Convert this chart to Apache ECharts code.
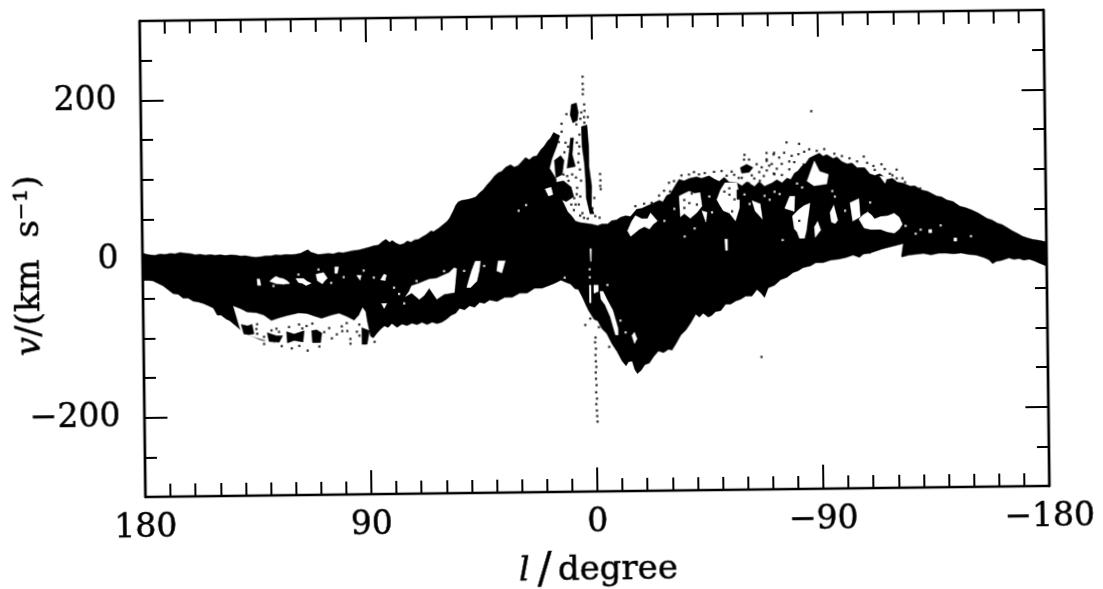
<!DOCTYPE html>
<html>
<head>
<meta charset="utf-8">
<title>Longitude-velocity diagram</title>
<script src="https://cdn.jsdelivr.net/npm/echarts@6/dist/echarts.min.js"></script>
<style>
html,body{margin:0;padding:0;background:#fff;overflow:hidden}
#c{width:1103px;height:589px;transform:rotate(-0.7deg);transform-origin:551px 294px}
</style>
</head>
<body>
<div id="c"></div>
<script>
// Tick labels
const xLabels = [180, 90, 0, -90, -180];
const yMajor = [-200, 0, 200];

// Outer edges of the emission band, [longitude, velocity]
const upperEdge = [[180,7.5],[178.5,6],[177,5],[175,4.5],[173,6],[171,5.2],[169,6.5],[167,6],[165,7.6],[163,6.5],[161,6],[159,4.5],[157,5],[155,3.8],[153,4.4],[151,3.6],[149,4.2],[147,3],[145,3.8],[143,3.4],[141,2.2],[139,2.5],[137,1.2],[135,0.3],[133,0.8],[131,2],[129,1.8],[127,3],[125,2.6],[123,3.4],[121,3],[119,3.6],[117,4.8],[115,8],[114,9],[113,6],[112,5],[110,2.8],[108,3.6],[106,4.2],[104,3.4],[102,5.2],[100,4.6],[98,6],[96,7.4],[94,7.8],[92,9.4],[90,11],[88,13],[86,14],[84.5,18],[83,21],[81.5,17],[80.5,19.5],[79,16],[77.5,14],[76,15],[74.5,18.5],[73,17],[71.5,20],[70,20.5],[68.5,23.5],[67,26],[65,31],[64,30],[62,34],[60,39],[58.5,43],[57.5,47],[56,56],[55,63],[54,67],[52.5,69],[51,69.5],[49,71],[47,73],[45.5,78],[44,82],[42.5,88],[41,93],[39.5,99],[38,103],[36.5,105],[35,110],[33,113],[31.5,110],[30,112],[28.5,117],[27,122],[25.5,119],[24,123],[22.5,124],[21,131],[19.5,136],[18,143],[17,146],[15.7,153],[14.5,151],[13.3,149],[14.5,136],[16.5,120],[17.5,108],[15,95],[14.5,82],[13,70],[11.5,60],[10.5,53],[9,48],[7.4,41],[5.5,39],[3.4,38],[1,37],[-1.4,35],[-3,37],[-5.4,37],[-7,41],[-9,42],[-10.5,45],[-12.5,47],[-14.5,46],[-17,55],[-19,56],[-21,59],[-24,63],[-26,66],[-27.5,64],[-29,72],[-30.5,74],[-32,82],[-34,92],[-36,90],[-38,93],[-41,95],[-43,93],[-46,96],[-48,92],[-50,89],[-52,94],[-54,88],[-57,87],[-59,83],[-61,88],[-64,82],[-66,88],[-68,82],[-71,86],[-73,90],[-75,86],[-77,92],[-78.5,90],[-80,98],[-81.5,101],[-83,107],[-84.5,110],[-86,117],[-88,120],[-90,123],[-91.5,119],[-93,121],[-95.5,116],[-97,118],[-99,112],[-101,109],[-103,110],[-105,104],[-108,104],[-110,96],[-112,94],[-114,96],[-117,89],[-119,90],[-121,85],[-123,84],[-126,80],[-128,80],[-130.5,75],[-133,73],[-136.5,67],[-138.5,66],[-140.5,62],[-143,60],[-145.7,54],[-148,52],[-150.5,49],[-153,45],[-156.5,38],[-158.5,36],[-160.5,32],[-162.5,30],[-164.5,26],[-166.5,22],[-168.4,19],[-170.5,15],[-172.4,13],[-174.5,11],[-176.4,10],[-178,9],[-180,7.5]];
const lowerEdge = [[180,-27],[178,-27],[176,-27.7],[174,-31],[172,-34],[170,-39],[168,-44],[166,-45],[164,-50],[162,-50],[160,-54],[158,-55],[156,-57],[154,-60],[152,-63],[150.5,-72],[149,-72],[147,-77],[145.6,-79],[143,-86],[141,-92],[139,-96],[136,-100],[134,-103],[132,-105],[130,-103],[128,-108],[125,-106],[122,-108],[119,-106],[116,-108],[113,-107],[110,-109],[107,-107],[104,-108],[101,-106],[98,-109],[95,-107],[92.5,-110],[90.5,-109],[90,-100],[88.5,-103],[87,-97],[85.5,-92],[84,-88],[82.5,-90],[81,-85],[79,-90],[77,-86],[75,-88],[73,-85],[71,-87],[69,-84],[67,-87],[65,-84],[63,-86],[61,-84],[59,-80],[57.5,-76],[55.5,-73],[54,-67],[52,-69],[50,-64],[48,-66],[46,-60],[44,-61],[42,-57],[39,-59],[36,-54],[33,-54],[30,-49],[27,-49],[24,-43],[21,-43],[18.5,-40],[16,-37],[13.5,-33],[11.5,-36],[9.7,-38],[8,-44],[6.6,-45],[5,-55],[3.5,-66],[2.6,-72],[0.5,-83],[-1,-85],[-2.6,-95],[-4.5,-101],[-6.5,-114],[-8.5,-124],[-10.5,-136],[-12,-142],[-13,-137],[-14.5,-136],[-15.5,-147],[-16.5,-152],[-18,-148],[-19.5,-141],[-21.3,-139],[-23,-131],[-25,-124],[-27,-126],[-29,-122],[-30.4,-123],[-32,-115],[-34,-104],[-36,-98],[-38,-89],[-40,-78],[-41.5,-82],[-43,-77],[-45,-82],[-46.3,-80],[-48,-75],[-50,-74],[-52,-66],[-54,-66],[-56,-62],[-58,-60],[-60,-56],[-62.5,-56],[-64.5,-48],[-66,-52],[-67.5,-58],[-69,-46],[-71.5,-43],[-74,-36],[-76.5,-33],[-79,-27],[-81,-25],[-83,-21],[-86,-19],[-88,-15],[-91,-15],[-94,-12],[-97,-11],[-100,-9],[-103,-6],[-105.5,-9],[-107,-5],[-109,-4],[-112,-5],[-115,-3],[-118,-2],[-120,-4],[-122.5,-9],[-125,-7],[-128,-6],[-131,-5],[-134,-7],[-137,-5],[-140,-5],[-143,-6],[-146,-5],[-149,-7],[-152,-8],[-155,-11],[-157,-14],[-158.5,-19],[-160,-16],[-162,-15],[-165,-12],[-167,-14],[-169,-13],[-171,-15],[-173,-14],[-175,-16],[-177,-19],[-180,-23]];

// Gaps in the emission
const gapLowLeft = [[144,-61],[141,-65],[138.6,-69],[135,-70],[132,-73],[129,-80],[126,-77],[122.6,-74],[118,-71],[114.7,-72],[112,-75],[109,-78],[105,-74],[102,-72],[99,-76],[96,-81],[94,-74],[92.6,-65],[91.5,-70],[91,-81],[89,-113],[89,-118],[118,-118],[141,-95]];
const gapA = [[129.5,-30],[128,-26],[127,-24],[125.5,-26],[124,-27],[122.5,-30],[121.5,-33],[124,-34],[127,-33]];
const gapB = [[119,-27],[116,-27],[114.5,-31],[113,-33],[115,-36],[116.5,-33],[118,-32]];
const gapC = [[111,-22],[108,-20],[106.5,-27],[107.5,-30],[108.5,-34],[110.5,-30]];
const gapD = [[134.5,-27],[133.5,-27],[133,-35],[134.3,-35]];
const gapE = [[103.5,-13],[102,-13],[102.5,-21],[103.5,-21]];
const gapF = [[85.3,-30],[84,-23],[83,-24],[83.5,-31]];
const gapG = [[75.4,-51],[74,-45],[73,-38],[70,-35],[66,-30],[63,-29],[61,-26],[58,-22],[56,-16],[55,-17],[55.5,-32],[56,-47],[60,-49],[63,-55],[66,-41],[68,-50],[70,-55],[73,-47]];
const gapH = [[51,-41],[50,-30],[49,-20],[47.5,-8],[45.5,-8],[46,-20],[47,-33],[49.5,-41]];
const gapI = [[39,-20.5],[38.4,-8],[35.6,-8],[37,-23]];
const gapJ = [[85,-60],[83,-60],[84,-66]];
const gapK = [[94.8,-24],[93,-24],[93.5,-30]];
const gapCentre1 = [[19.3,82],[17,84],[16.3,75],[18,73]];
const gapBar1 = [[-2,-48],[-3.2,-48],[-5,-60],[-7,-72],[-9,-95],[-9,-103],[-8,-103],[-6,-80],[-4,-65],[-2.4,-58]];
const gapBar2 = [[2.2,-40],[1.6,-40],[1.6,-62],[2.2,-62]];
const gapBar3 = [[0.4,-40],[-1.3,-40],[-1.3,-48],[0.4,-50]];
const gapBar4 = [[1.8,6],[1.2,6],[1.4,-10],[1.6,-10]];
const gapDot = [[-14.5,-104],[-15.5,-100],[-16.5,-108],[-15.5,-114]];
const gapW1 = [[-13.3,28],[-15,40],[-16.5,47],[-19,43],[-21.3,43],[-22.5,50],[-25.2,40],[-23.5,36],[-22,30],[-20,33],[-18,30],[-14.5,21]];
const gapW2 = [[-34,71],[-36,74],[-38,77],[-40,74],[-42.3,75],[-43,58],[-41,50],[-38.3,43],[-36,49],[-34.4,45]];
const gapW3 = [[-49,66],[-50.5,78],[-52.3,87],[-57,87],[-58,70],[-57.9,55],[-56.3,39],[-53.9,49],[-51.5,52],[-50,60]];
const gapW4 = [[-63,64],[-66.2,60],[-67,41],[-64.2,51]];
const gapW5 = [[-76,54],[-78,69],[-80,69],[-79.7,50]];
const gapW6 = [[-79,44],[-81.5,52],[-83.7,57],[-86,60],[-85.5,48],[-85,38],[-84.5,26],[-83.7,16],[-81.7,16],[-80.8,24],[-79.7,28]];
const gapW7 = [[-87.7,30],[-89,37],[-90.2,26],[-88,17]];
const gapW8 = [[-94,48],[-95.5,57],[-97,38],[-96,34],[-94.5,36]];
const gapW9 = [[-102,60],[-105.5,65],[-106,42],[-103,37]];
const gapW10 = [[-105.5,39],[-107,44],[-109,48],[-110.5,44],[-111.7,39],[-114,42],[-117,43],[-119.5,46],[-121.5,41],[-122.7,32],[-121.5,26],[-119.5,21],[-116.5,23],[-114,26],[-110,26],[-107.5,28]];
const gapW11 = [[-85,88],[-88,113],[-90,100],[-93.5,96],[-92.8,84],[-87.7,82]];
const gapW12 = [[-110,-4],[-115,1],[-122.8,7],[-122,-9],[-110,-9]];
const gapW13 = [[-114,93],[-117,92],[-116,84]];
const gapW14 = [[-52,16],[-53,16],[-53,2],[-52.2,2]];
const gapW15 = [[-133.2,25],[-134.4,25],[-134.4,21],[-133.2,21]];
const gapW16 = [[-143.2,14],[-144.3,14],[-144.3,10],[-143.2,10]];
const gapW17 = [[-43,52],[-45,50],[-44.5,38]];

// Patches of emission lying inside the gaps or above the band
const patchD1 = [[141,-84],[138.5,-86],[136.7,-84],[136,-96],[138,-97],[140,-96]];
const patchD2 = [[130.7,-95],[127,-99],[124.6,-99],[126,-107],[130,-106]];
const patchD3 = [[123,-94],[120,-97],[116,-93],[116.5,-107],[120,-105],[122.7,-108]];
const patchD4 = [[113,-93],[111,-92],[109,-96],[109.5,-108],[112.7,-108]];
const patchD5 = [[93,-90],[90,-94],[91,-111],[93,-111]];
const patchP1 = [[8.5,188],[6.5,190],[5.8,178],[6.2,168],[8,165],[9,175]];
const patchP2 = [[9,146],[7.8,146],[8.4,125],[7.2,110],[10.5,108],[9.6,128]];
const patchP3 = [[15.5,118],[13,124],[11.7,118],[12.5,100],[15,96]];
const patchP4 = [[15,90],[12,92],[9,84],[8,72],[11,66],[14,70]];
const patchP5 = [[4.6,160],[2.4,162],[1.8,135],[1.8,110],[0.8,85],[1,60],[0,50],[1.6,50],[3,70],[3.2,95],[3.6,115],[4.4,135]];
const patchP6 = [[-58.5,106],[-61,110],[-63.5,106],[-62,100],[-59,99]];
const patchP7 = [[-57,78],[-59,78],[-59,66],[-57,66]];

// Isolated dark specks, [longitude, velocity]
const specks = [[3.9,223],[3.9,214],[3.8,207],[3.9,201],[3.4,188],[3.3,180],[3.5,172],[3.4,165],[-2.6,100],[-2.7,92],[-2.6,85],[-2.8,81],[12.5,164],[10.5,176],[13.7,141],[6.6,163],[5.4,150],[5.8,126],[5.4,106],[10.5,98],[6.6,83],[7.3,62],[5.4,72],[7.8,70],[4.6,51],[-0.2,70],[0.6,57],[-2.2,45],[12.5,154],[17.7,86],[0,-106],[0.2,-112],[-0.1,-120],[0.1,-128],[0,-136],[-0.2,-143],[0.1,-150],[0,-158],[-0.2,-166],[0,-175],[-0.3,-183],[0,-190],[-0.2,-198],[-0.3,-205],[-0.4,-212],[-5.4,-118],[-1.4,-93],[4,-90],[2,-82],[-38,98],[-44.3,99.6],[-48,101],[-51,102],[-55,101],[-30.4,77],[-23,63],[-20,62],[-16.5,59],[-60.2,122],[-69,124],[-71.8,122],[-65,110],[-69,114],[-71,110],[-71.8,98],[-69,102],[-67.8,95],[-64,92],[-61.8,86],[-57.8,93],[-66.2,89],[-55,51],[-39,74],[-44,76],[-45,64],[-38,62],[-36,56],[-82,135],[-77,137],[-72,124],[-81.7,122],[-78,113],[-83.7,109],[-72,97],[-69,116],[-99,119],[-107.7,118],[-111.5,106],[-114.7,108],[-118,96],[-120.7,101],[-120.7,90],[-124,85],[-127.4,79],[-130,77],[-87,176],[-66,-133],[-81.7,38],[134.7,-84],[134.7,-96],[132,-100],[135,-90],[118,-85],[115,-87],[112.7,-84],[116.7,-90],[105,-103],[100.8,-94],[98.8,-94],[97.6,-104],[97.6,-110],[121,-115],[132,-109],[114.7,-118],
  [11,140],[10,135],[11.5,128],[6.5,140],[5.5,135],[6,115],[7,96],[5,92],[6.8,75],[6,62],[8,55],[5.5,48],[4,45],[2.5,44],[-0.5,47],[10,92],[12,100],[13,112],[8.5,100],[9,62],[3.6,150],[5,170],[4.6,178],[2,172],
  [-30,88],[-32,90],[-26,72],[-28,78],[-35,97],[-40,101],[-42,98],[-53,96],[-56,97],[-59,93],[-60,116],[-62,116],[-63,96],[-66,100],[-67,106],[-70,108],[-73,104],[-75,110],[-75,96],[-74,118],[-76,124],[-78,103],[-79,120],[-80,112],[-84,125],[-86,128],[-89,126],[-92,128],[-96,122],[-102,116],[-105,112],[-109,110],[-112,101],[-116,102],[-119,94],[-123,90],
  [-47,68],[-47,58],[-41,60],[-36,66],[-52,76],[-54,80],[-56,66],[-54,72],[-90,70],[-91,60],[-100,72],[-103,74],[-107,52],
  [139,-88],[129,-92],[127,-90],[126,-94],[122,-88],[108,-95],[106,-90],[103,-98],[101,-88],[99,-84],[95,-95],[94,-100],[94,-86],[125,-112],[118,-112],[110,-113],[88,-108],[89,-98]];

// Small light flecks inside the dark band, [longitude, velocity]
const flecks = [[128,-36],[118,-22],[110,-16],[105,-33],[100,-26],[92,-18],[88,-27],[80,-40],[78,-48],[76,-60],[71,-32],[60,-20],[52,-20],[44,-14],[2,-20],[2,-30],[10,-42],[-13,55],[-17,62],[-28,40],[-32,55],[-35,60],[-46,70],[-47,50],[-60,72],[-62,60],[-68,70],[-70,65],[-72,75],[-74,72],[-81,85],[-83,80],[-95,75],[-96,68],[-100,50],[-110,60],[-124,30],[-128,20],[-130,25],[-138,30],[-150,16],[-75,14],[-40,30],[-36,20],[12,-30],[-5,-40],[-10,-85],[-12,-100],[30,55],[27,62]];

const gaps = [gapLowLeft,gapA,gapB,gapC,gapD,gapE,gapF,gapG,gapH,gapI,gapJ,gapK,gapCentre1,gapBar1,gapBar2,gapBar3,gapBar4,gapDot,gapW1,gapW2,gapW3,gapW4,gapW5,gapW6,gapW7,gapW8,gapW9,gapW10,gapW11,gapW12,gapW13,gapW14,gapW15,gapW16,gapW17];
const patches = [patchD1,patchD2,patchD3,patchD4,patchD5,patchP1,patchP2,patchP3,patchP4,patchP5,patchP6,patchP7];
const band = [upperEdge.concat(lowerEdge.slice().reverse())];

const FONT = '"DejaVu Serif", serif';
const INK = '#000';

function polygons(list, fill, z) {
  return {
    type: 'custom',
    coordinateSystem: 'cartesian2d',
    xAxisIndex: 0, yAxisIndex: 0,
    z: z, silent: true, clip: true,
    data: list.map((p, i) => [p[0][0], p[0][1], i]),
    renderItem: function (params, api) {
      const pts = list[params.dataIndex].map(p => api.coord(p));
      return { type: 'polygon', shape: { points: pts }, style: { fill: fill, stroke: fill, lineWidth: 0.5 } };
    }
  };
}
function dots(list, color, z) {
  return { type: 'scatter', xAxisIndex: 0, yAxisIndex: 0, z: z, silent: true, symbol: 'rect', symbolSize: 2.3,
    itemStyle: { color: color }, data: list };
}
const fmt = v => String(v).replace('-', '\u2212');
const lineSt = w => ({ color: INK, width: w });
const inkText = { color: INK, fontFamily: FONT, textBorderColor: INK, textBorderWidth: 0.5 };

function yAxis(pos, major, name) {
  const a = {
    type: 'value', position: pos, min: -300, max: 300, gridIndex: 0,
    splitLine: { show: false },
    axisLine: { show: true, onZero: false, lineStyle: lineSt(2.4) },
    axisLabel: { show: false }
  };
  if (major) {
    a.interval = 100;
    a.axisTick = { show: true, inside: true, length: 23, customValues: yMajor, lineStyle: lineSt(2) };
    if (pos === 'left') {
      a.axisLabel = Object.assign({ show: true, customValues: yMajor, margin: 24, fontSize: 33, formatter: fmt }, inkText);
    }
  } else {
    a.interval = 50;
    a.axisTick = { show: true, inside: true, length: 12, lineStyle: lineSt(2) };
  }
  if (name) {
    a.name = '{i|v}/(km  s\u207B\u00B9)\u00A0';
    a.nameLocation = 'middle';
    a.nameRotate = 90;
    a.nameGap = 96;
    a.nameTextStyle = Object.assign({ fontSize: 34, rich: {
      i: Object.assign({ fontStyle: 'italic', fontSize: 34 }, inkText)
    } }, inkText);
  }
  return a;
}
function xAxis(pos, label) {
  const a = {
    type: 'value', position: pos, inverse: true, min: -180, max: 180, interval: 90, gridIndex: 0,
    splitLine: { show: false },
    axisLine: { show: true, onZero: false, lineStyle: lineSt(2.4) },
    axisTick: { show: true, inside: true, length: 24, lineStyle: lineSt(2) },
    minorTick: { show: true, splitNumber: 9, length: 13, lineStyle: lineSt(2) },
    axisLabel: { show: false }
  };
  if (label) {
    a.axisLabel = Object.assign({ show: true, customValues: xLabels, margin: 15, fontSize: 33, formatter: fmt }, inkText);
    a.name = '{i|l}{s|/}degree';
    a.nameLocation = 'middle';
    a.nameGap = 58;
    a.nameTextStyle = Object.assign({ fontSize: 34, rich: {
      i: Object.assign({ fontStyle: 'italic', fontSize: 34, padding: [0, 8, 0, 0] }, inkText),
      s: Object.assign({ fontSize: 42, padding: [0, 6, 0, 0] }, inkText)
    } }, inkText);
  }
  return a;
}

const chart = echarts.init(document.getElementById('c'), null, { renderer: 'canvas' });
chart.setOption({
  animation: false,
  backgroundColor: 'transparent',
  grid: { left: 143, top: 16, width: 904, height: 476, containLabel: false, outerBoundsMode: 'none' },
  xAxis: [xAxis('bottom', true), xAxis('top', false)],
  yAxis: [yAxis('left', false, true), yAxis('left', true, false), yAxis('right', false, false), yAxis('right', true, false)],
  series: [
    polygons(band, INK, 1),
    polygons(gaps, '#fff', 2),
    polygons(patches, INK, 3),
    dots(specks, INK, 4),
    dots(flecks, '#fff', 5)
  ]
});
</script>
</body>
</html>
